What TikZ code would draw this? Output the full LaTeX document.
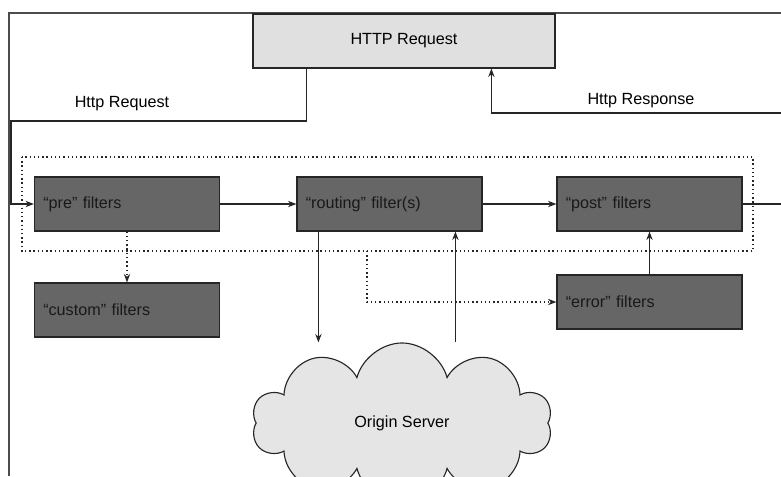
\documentclass[tikz,border=0pt]{standalone}
\usepackage{fontspec}
\setmainfont{Liberation Sans}
\usetikzlibrary{arrows.meta,shapes.symbols,calc}

\begin{document}
\begin{tikzpicture}[x=0.025cm,y=-0.025cm,
  every node/.style={font=\fontsize{11.5}{14}\selectfont},
  line/.style={line width=0.8pt,draw=black!85},
  arr/.style={line,-{Stealth[length=6pt,width=4.5pt]}},
  dots/.style={line width=1pt,draw=black!85,dash pattern=on 1pt off 2pt},
  dotarr/.style={dots,-{Stealth[length=6pt,width=4.5pt]}},
  filt/.style={draw=black!85,line width=0.8pt,fill=black!60,text=black!90,
    inner xsep=0.22cm,text width=\boxw-0.44cm,minimum height=\boxh,align=left},
  reqbox/.style={draw=black!85,line width=0.8pt,fill=black!12,
    minimum width=7.55cm,minimum height=\boxh},
  cloudnode/.style={cloud,cloud puffs=10,cloud ignores aspect,draw=black!85,
    line width=0.8pt,fill=black!10,minimum width=7.5cm,minimum height=4cm}]
\def\boxw{4.625cm};\def\boxh{1.35cm};
\useasboundingbox (0,0) rectangle (781,476);

% page frame
\draw[line width=1pt,black!70] (781,13) -| (9,476);

\node[reqbox] (http_req) at (404,41) {HTTP Request};

\node[filt] (pre_filt) at (127,204) {“pre” filters};
\node[filt] (route_filt) at (389.5,204) {“routing” filter(s)};
\node[filt] (post_filt) at (649.5,204) {“post” filters};
\node[filt] (custom_filt) at (127,310) {“custom” filters};
\node[filt] (error_filt) at (649.5,302) {“error” filters};

\node[cloudnode] (origin) at (402,423) {Origin Server};

\node (lbl_req) at (122,104) {Http Request};
\node (lbl_resp) at (641,101) {Http Response};

\coordinate (bend_1) at (11,121);
\coordinate (edge_1) at (781,113);
\coordinate (edge_2) at (781,204);
\coordinate (split_1) at (367,251);
\coordinate (req_out) at ($(http_req.south west)+(54,0)$);
\coordinate (resp_in) at ($(http_req.south west)+(239,0)$);
\coordinate (route_out) at ($(route_filt.south west)+(22,0)$);
\coordinate (route_in) at ($(route_filt.south west)+(159,0)$);

\draw[dots] (22,157) rectangle (753,251);

\draw[arr] (req_out) |- (bend_1) |- (pre_filt.west);
\draw[arr] (edge_1) -| (resp_in);
\draw[arr] (pre_filt) -- (route_filt);
\draw[arr] (route_filt) -- (post_filt);
\draw[line] (post_filt.east) -- (edge_2);
\draw[dotarr] (pre_filt) -- (custom_filt);
\draw[arr] (route_out) -- (route_out |- origin.north);
\draw[arr] (route_in |- origin.north) -- (route_in);
\draw[arr] (error_filt) -- (post_filt);
\draw[dotarr] (split_1) |- (error_filt.west);
\end{tikzpicture}
\end{document}
